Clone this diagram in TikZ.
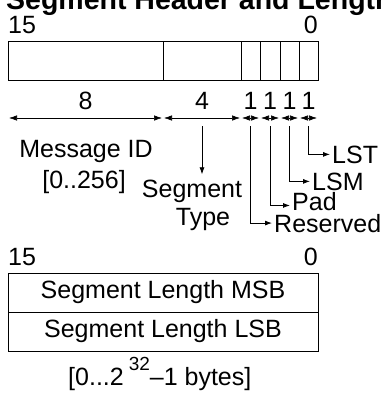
\documentclass[tikz,border=0pt]{standalone}
\usepackage{fontspec}
\setmainfont{Liberation Sans}
\usetikzlibrary{positioning,arrows.meta}

\tikzset{
  txt/.style={font=\fontsize{25}{30}\selectfont, inner sep=0pt},
  field/.style={draw, line width=0.8pt, minimum height=39pt, outer sep=0pt, inner sep=0pt},
  dim/.style={line width=0.6pt, {Latex[length=8pt,width=5.5pt]}-{Latex[length=8pt,width=5.5pt]},
    shorten <=1pt, shorten >=1pt},
  lead/.style={line width=0.8pt, -{Latex[length=7pt,width=5pt]}}
}

\begin{document}
\begin{tikzpicture}[x=1pt,y=-1pt]
  \useasboundingbox (0,0) rectangle (385,394);
  \clip (0,0) rectangle (385,394);
  \node[anchor=base west, inner sep=0pt, font=\fontsize{28.5}{32}\selectfont\bfseries] (title) at (6,9) {Segment Header and Length};
  % header word
  \node[txt, anchor=base west] (hi1) at (8,33) {15};
  \node[txt, anchor=base east] (lo1) at (318,33) {0};
  \node[field, minimum width=155pt, anchor=north west] (f8) at (8,41) {};
  \node[field, minimum width=78pt, right=0pt of f8] (f4) {};
  \node[field, minimum width=19pt, right=0pt of f4] (fr) {};
  \node[field, minimum width=20pt, right=0pt of fr] (fp) {};
  \node[field, minimum width=19pt, right=0pt of fp] (fm) {};
  \node[field, minimum width=19pt, right=0pt of fm] (ft) {};
  % bit widths
  \foreach \f/\n in {f8/8,f4/4,fr/1,fp/1,fm/1,ft/1}{
    \draw[dim] ([yshift=-38pt]\f.south west) -- ([yshift=-38pt]\f.south east)
      node[txt, midway, above=8pt] {\n};
    \coordinate (\f-tap) at ([yshift=-46pt]\f.south);
  }
  % field names
  \node[txt, anchor=base] (msg) at (86,157) {Message ID};
  \node[txt, anchor=base] (msgrng) at (84,188) {[0..256]};
  \node[txt, anchor=base] (segm) at (192,197) {Segment};
  \node[txt, anchor=base] (type) at (203,225) {Type};
  \node[txt, anchor=base west] (lst) at (332,163) {LST};
  \node[txt, anchor=base west] (lsm) at (312,190) {LSM};
  \node[txt, anchor=base west] (pad) at (292,210) {Pad};
  \node[txt, anchor=base west] (rsv) at (274,232) {Reserved};
  \draw[lead, shorten >=5pt] (f4-tap) -- (f4-tap |- segm.north);
  \draw[lead] (fr-tap) |- ([xshift=-2pt]rsv.west);
  \draw[lead] (fp-tap) |- ([xshift=-2pt,yshift=5pt]pad.south west);
  \draw[lead] (fm-tap) |- ([xshift=-2pt]lsm.west);
  \draw[lead] (ft-tap) |- ([xshift=-2pt]lst.west);
  % length words
  \node[txt, anchor=base west] (hi2) at (8,265) {15};
  \node[txt, anchor=base east] (lo2) at (318,265) {0};
  \node[field, txt, minimum width=310pt, anchor=north west] (msb) at (8,273) {Segment Length MSB};
  \node[field, txt, minimum width=310pt, below=0pt of msb] (lsb) {Segment Length LSB};
  \node[txt, anchor=base west] (lenrng) at (68,385)
    {[0...2\hspace{5pt}\raisebox{15pt}{\fontsize{19}{19}\selectfont 32}–1 bytes]};
\end{tikzpicture}
\end{document}
